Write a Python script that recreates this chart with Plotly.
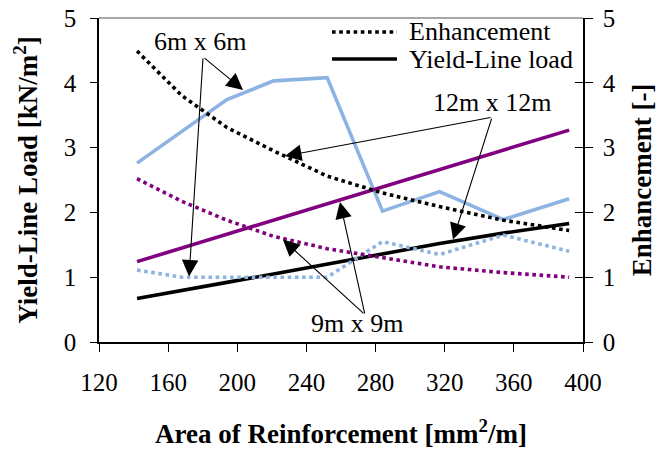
import plotly.graph_objects as go

# ---- data ----
area = [142, 168, 194, 221, 252, 284, 317, 354, 392]

load_6m = [2.76, 3.25, 3.74, 4.03, 4.08, 2.02, 2.32, 1.89, 2.21]
load_9m = [1.24, 1.45, 1.66, 1.88, 2.13, 2.39, 2.66, 2.96, 3.27]
load_12m = [0.67, 0.80, 0.92, 1.05, 1.20, 1.35, 1.52, 1.68, 1.83]

enh_6m = [1.11, 1.00, 1.00, 1.00, 1.00, 1.55, 1.35, 1.65, 1.40]
enh_9m = [2.52, 2.17, 1.88, 1.63, 1.44, 1.30, 1.16, 1.07, 1.00]
enh_12m = [4.49, 3.80, 3.31, 2.95, 2.56, 2.30, 2.09, 1.88, 1.72]

x_ticks = [120, 160, 200, 240, 280, 320, 360, 400]
y_ticks = [0, 1, 2, 3, 4, 5]

legend_names = ["Enhancement", "Yield-Line load"]
legend_dash = ["dot", "solid"]

BLUE = "#8DB3E2"
PURPLE = "#800080"
BLACK = "#000000"
FONT = "Liberation Serif"
LW = 3.6

fig = go.Figure()

# load (left axis, solid)
fig.add_trace(go.Scatter(x=area, y=load_6m, mode="lines", line=dict(color=BLUE, width=LW), showlegend=False))
fig.add_trace(go.Scatter(x=area, y=load_9m, mode="lines", line=dict(color=PURPLE, width=LW), showlegend=False))
fig.add_trace(go.Scatter(x=area, y=load_12m, mode="lines", line=dict(color=BLACK, width=LW), showlegend=False))
# enhancement (right axis, dotted)
fig.add_trace(go.Scatter(x=area, y=enh_6m, mode="lines", yaxis="y2", line=dict(color=BLUE, width=LW, dash="dot"), showlegend=False))
fig.add_trace(go.Scatter(x=area, y=enh_9m, mode="lines", yaxis="y2", line=dict(color=PURPLE, width=LW, dash="dot"), showlegend=False))
fig.add_trace(go.Scatter(x=area, y=enh_12m, mode="lines", yaxis="y2", line=dict(color=BLACK, width=LW, dash="dot"), showlegend=False))
fig.add_trace(go.Scatter(x=[None], y=[None], yaxis="y3", showlegend=False, hoverinfo="skip"))

# annotations: (text, text_x, text_y, origin_x, origin_y, [tips])
labels = [
    ("6m x 6m", 178.4, 4.63, 180.2, 4.40, [(203.3, 3.89), (172.1, 1.01)]),
    ("12m x 12m", 347.4, 3.69, 347.4, 3.47, [(227.6, 2.87), (324.8, 1.58)]),
    ("9m x 9m", 269.3, 0.28, 273.9, 0.42, [(259.4, 2.16), (226.4, 1.58)]),
]
annotations = []
for text, tx, ty, ox, oy, tips in labels:
    annotations.append(dict(x=tx, y=ty, xref="x", yref="y", text=text, showarrow=False,
                            font=dict(family=FONT, size=26, color="black")))
    for (px, py) in tips:
        annotations.append(dict(x=px, y=py, xref="x", yref="y", ax=ox, ay=oy, axref="x", ayref="y",
                                text="", showarrow=True, arrowhead=2, arrowsize=3, arrowwidth=1.1,
                                arrowcolor="black", standoff=0, startstandoff=0))

# legend (drawn in paper coordinates at the top right of the plot)
shapes = [dict(type="line", xref="paper", yref="paper", x0=0, x1=1, y0=1, y1=1,
               line=dict(color="#888888", width=1.5))]
leg_x0, leg_x1, leg_tx = (332 - 99) / 484, (397 - 99) / 484, (407 - 99) / 484
for i, (name, dash) in enumerate(zip(legend_names, legend_dash)):
    yy = 1 - (14 + 27 * i) / 324
    shapes.append(dict(type="line", xref="paper", yref="paper", x0=leg_x0, x1=leg_x1, y0=yy, y1=yy,
                       line=dict(color=BLACK, width=LW, dash=dash)))
    annotations.append(dict(x=leg_tx, y=yy, xref="paper", yref="paper", xanchor="left", yanchor="middle",
                            text=name, showarrow=False, font=dict(family=FONT, size=26, color="black")))

fig.update_layout(
    width=657, height=449,
    margin=dict(l=99, r=74, t=18, b=107),
    paper_bgcolor="white", plot_bgcolor="white",
    font=dict(family=FONT, size=25, color="black"),
    showlegend=False,
    xaxis=dict(range=[120, 400], tickvals=x_ticks, ticks="outside", ticklen=8, tickcolor="black",
               showline=True, linecolor="black", linewidth=1.5, showgrid=False, zeroline=False,
               ticklabelstandoff=9, automargin=False,
               title=dict(text="<b>Area of Reinforcement [mm<sup>2</sup>/m]</b>", font=dict(family=FONT, size=27), standoff=30)),
    yaxis=dict(range=[0, 5], tickvals=y_ticks, ticks="outside", ticklen=7, tickcolor="black",
               showline=True, linecolor="black", linewidth=1.5, showgrid=False, zeroline=False,
               ticklabelstandoff=9, automargin=False,
               title=dict(text="<b>Yield-Line Load [kN/m<sup>2</sup>]</b>", font=dict(family=FONT, size=27), standoff=18)),
    yaxis2=dict(range=[0, 5], tickvals=y_ticks, ticks="outside", ticklen=8, tickcolor="black",
                overlaying="y", side="right", anchor="x",
                showline=True, linecolor="black", linewidth=1.5, showgrid=False, zeroline=False,
                ticklabelstandoff=5, automargin=False,
                title=dict(text="<b>Enhancement [-]</b>", font=dict(family=FONT, size=27), standoff=24)),
    yaxis3=dict(range=[0, 5], tickvals=y_ticks, ticks="inside", ticklen=8, tickcolor="black",
                overlaying="y", side="right", anchor="x", showticklabels=False, automargin=False,
                showline=False, showgrid=False, zeroline=False),
    annotations=annotations,
    shapes=shapes,
)

fig.write_html("out.html")
